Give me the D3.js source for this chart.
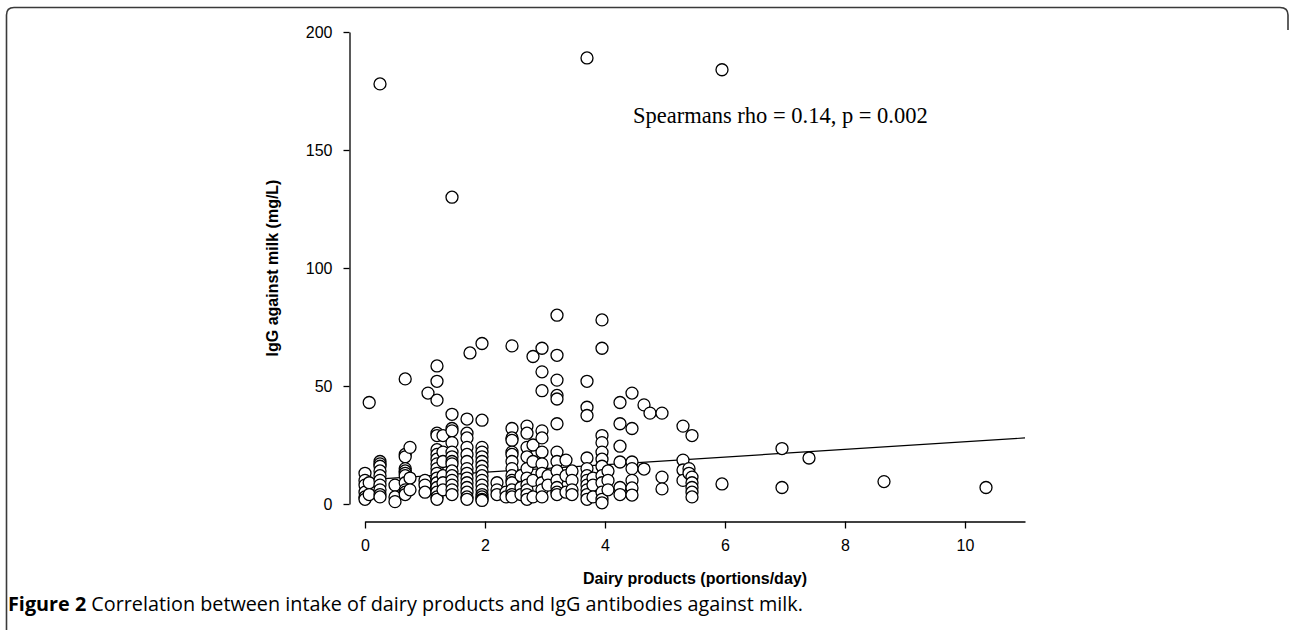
<!DOCTYPE html>
<html>
<head>
<meta charset="utf-8">
<style>
  body { margin: 0; background: #fff; }
  svg text { fill: #000; }
</style>
</head>
<body>
<svg width="1289" height="630"></svg>
<script src="https://d3js.org/d3.v7.min.js"></script>
<script>

// dairy intake (portions/day) for each column of points, and the IgG values in that column
var colX = [0, 0.07, 0.25, 0.5, 0.67, 0.75, 1.0, 1.05, 1.2, 1.3, 1.45, 1.7, 1.75, 1.95,
            2.2, 2.35, 2.45, 2.6, 2.7, 2.8, 2.95, 3.05, 3.2, 3.35, 3.45, 3.7, 3.8, 3.95,
            4.05, 4.25, 4.45, 4.65, 4.75, 4.95, 5.3, 5.4, 5.45, 5.95, 6.95, 7.4, 8.65, 10.35];
var colY = [
  [13, 10, 8, 5, 3, 2],
  [43, 9, 4],
  [178, 18, 17, 16, 14, 12, 10, 8, 6, 4, 3],
  [8, 3, 1],
  [53, 21, 20, 15, 14, 13, 12, 9, 6, 5, 4],
  [24, 11, 6],
  [10, 8, 5],
  [47],
  [58.5, 52, 44, 30, 29, 23, 21, 19, 17, 15, 13, 11, 9, 7, 5, 3, 2],
  [29, 22, 18, 12, 9, 6],
  [130, 38, 32, 31, 26, 22, 20, 18, 17, 14, 12, 10, 8, 6, 4],
  [36, 30, 28, 24, 21, 18, 15, 13, 11, 9, 7, 5, 3, 2],
  [64],
  [68, 35.5, 24, 22, 20, 18, 16, 14, 12, 10, 8, 6, 4, 3, 2, 1.5],
  [9, 6, 4],
  [5, 3],
  [67, 32, 28, 27, 22, 21, 18, 15, 12, 10, 9, 6, 4, 3],
  [12, 7, 4],
  [33, 30, 24, 20, 15, 11, 8, 6, 4, 2],
  [62.5, 25, 18, 10, 3],
  [66, 56, 48, 31, 28, 22, 17, 13, 9, 6, 3],
  [12, 8],
  [80, 63, 52.5, 46, 44.5, 34, 22, 18, 14, 10, 7, 5, 4],
  [18.6, 12, 5],
  [14, 10, 6, 4],
  [189, 52, 41, 37.5, 19.5, 15, 12, 10, 8, 6, 4, 2],
  [11, 8, 3],
  [78, 66, 29, 26, 22, 19, 16, 12, 9, 5, 2, 0.5],
  [14, 10, 6],
  [43, 34, 24.5, 17.8, 7, 4],
  [47, 32, 17.8, 15, 10, 6.8, 3.8],
  [42, 14.8],
  [38.5],
  [38.5, 11.4, 6.4],
  [33, 18.6, 14.4, 10],
  [15, 13],
  [29, 11.4, 9, 7, 5, 3],
  [184, 8.5],
  [23.5, 7],
  [19.5],
  [9.5],
  [7]
];

// fitted regression line end points
var fitX = [0, 11];
var fitY = [10.2, 28];

var xTicks = [0, 2, 4, 6, 8, 10];
var yTicks = [0, 50, 100, 150, 200];

var points = [];
colX.forEach(function(x, i) {
  colY[i].forEach(function(y) { points.push({x: x, y: y}); });
});

var svg = d3.select("svg");

var x = d3.scaleLinear().domain([0, 11]).range([365, 1025]);
var y = d3.scaleLinear().domain([0, 200]).range([504, 32]);

// frame around the figure
svg.append("path")
    .attr("d", "M6.5,630 L6.5,15 Q6.5,7.5 14,7.5 L1280,7.5 Q1288,7.5 1288,15 L1288,30")
    .attr("fill", "none")
    .attr("stroke", "#3a3a3a")
    .attr("stroke-width", 1.6);

var yAxis = svg.append("g")
    .attr("transform", "translate(349.5,0)")
    .call(d3.axisLeft(y).tickValues(yTicks).tickSize(6).tickPadding(11).tickSizeOuter(0));

var xAxis = svg.append("g")
    .attr("transform", "translate(0,521.5)")
    .call(d3.axisBottom(x).tickValues(xTicks).tickSize(7).tickPadding(11).tickSizeOuter(0));

[xAxis, yAxis].forEach(function(a) {
  a.select(".domain").attr("stroke", "#000").attr("stroke-width", 1.3);
  a.selectAll(".tick line").attr("stroke", "#000").attr("stroke-width", 1.3);
  a.selectAll(".tick text")
      .style("font-family", "'Liberation Sans', Arial, sans-serif")
      .style("font-size", "16px")
      .attr("fill", "#000");
});

// regression line under the points
svg.append("line")
    .attr("x1", x(fitX[0])).attr("y1", y(fitY[0]))
    .attr("x2", x(fitX[1])).attr("y2", y(fitY[1]))
    .attr("stroke", "#000")
    .attr("stroke-width", 1.2);

svg.append("g").selectAll("circle")
    .data(points)
  .enter().append("circle")
    .attr("cx", function(d) { return x(d.x); })
    .attr("cy", function(d) { return y(d.y); })
    .attr("r", 6)
    .attr("fill", "#fff")
    .attr("stroke", "#000")
    .attr("stroke-width", 1.3);

svg.append("text")
    .attr("x", 633)
    .attr("y", 123)
    .style("font-family", "'Liberation Serif', 'Times New Roman', serif")
    .style("font-size", "22.5px")
    .text("Spearmans rho = 0.14, p = 0.002");

svg.append("text")
    .attr("x", 695)
    .attr("y", 584)
    .attr("text-anchor", "middle")
    .style("font-family", "'Liberation Sans', Arial, sans-serif")
    .style("font-size", "16px")
    .style("font-weight", "bold")
    .text("Dairy products (portions/day)");

svg.append("text")
    .attr("transform", "translate(278,268) rotate(-90)")
    .attr("text-anchor", "middle")
    .style("font-family", "'Liberation Sans', Arial, sans-serif")
    .style("font-size", "16px")
    .style("font-weight", "bold")
    .text("IgG against milk (mg/L)");

var caption = svg.append("text")
    .attr("x", 8)
    .attr("y", 611)
    .style("font-family", "'Open Sans', 'Noto Sans', sans-serif")
    .style("font-size", "19.8px");
caption.append("tspan").style("font-weight", "bold").text("Figure 2");
caption.append("tspan").text(" Correlation between intake of dairy products and IgG antibodies against milk.");

</script>
</body>
</html>
